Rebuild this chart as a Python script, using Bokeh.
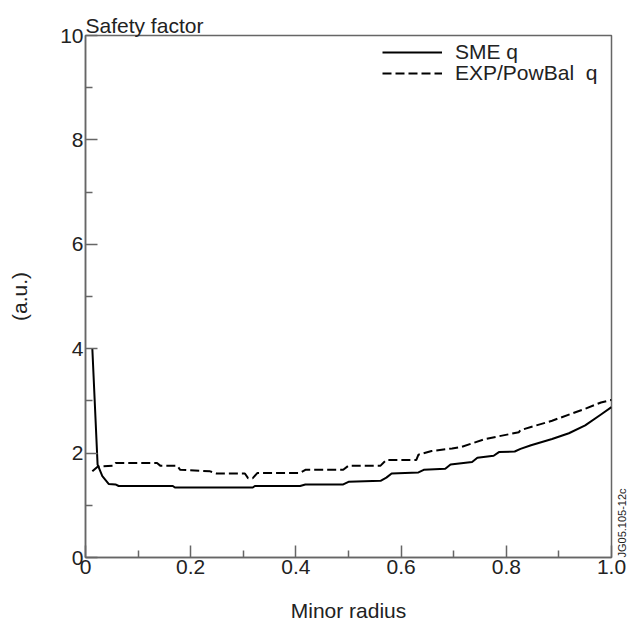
import math
from bokeh.plotting import figure
from bokeh.models import Legend, LegendItem, FixedTicker, LinearAxis
from bokeh.embed import file_html
from bokeh.resources import INLINE

# SME q (solid)
sme_x = [0.013, 0.023, 0.032, 0.044, 0.057, 0.063, 0.166, 0.170, 0.318, 0.322,
         0.408, 0.418, 0.490, 0.500, 0.561, 0.572, 0.582, 0.633, 0.643, 0.684,
         0.694, 0.735, 0.745, 0.776, 0.786, 0.816, 0.827, 0.847, 0.887, 0.919,
         0.950, 0.980, 1.000]
sme_y = [4.00, 1.78, 1.56, 1.41, 1.40, 1.37, 1.37, 1.34, 1.34, 1.37,
         1.37, 1.40, 1.40, 1.45, 1.47, 1.53, 1.61, 1.63, 1.68, 1.70,
         1.78, 1.83, 1.91, 1.95, 2.02, 2.03, 2.08, 2.15, 2.27, 2.38,
         2.53, 2.74, 2.88]

# EXP/PowBal q (dashed)
exp_x = [0.013, 0.023, 0.053, 0.057, 0.136, 0.142, 0.174, 0.180, 0.237, 0.249,
         0.303, 0.309, 0.318, 0.327, 0.408, 0.418, 0.490, 0.500, 0.561, 0.572,
         0.629, 0.633, 0.658, 0.697, 0.715, 0.760, 0.824, 0.827, 0.887, 0.950,
         0.980, 1.000]
exp_y = [1.65, 1.74, 1.76, 1.81, 1.81, 1.76, 1.76, 1.68, 1.65, 1.61,
         1.61, 1.52, 1.52, 1.62, 1.62, 1.68, 1.68, 1.76, 1.76, 1.87,
         1.87, 1.97, 2.04, 2.09, 2.12, 2.27, 2.40, 2.44, 2.62, 2.85,
         2.97, 3.02]

x_ticks = [0, 0.2, 0.4, 0.6, 0.8, 1.0]
x_minor = [0.1, 0.3, 0.5, 0.7, 0.9]
x_labels = ["0", "0.2", "0.4", "0.6", "0.8", "1.0"]
y_ticks = [0, 2, 4, 6, 8, 10]
y_minor = [1, 3, 5, 7, 9]
y_labels = ["0", "2", "4", "6", "8", "10"]
series_names = ["SME q", "EXP/PowBal  q"]
code_text = "JG05.105-12c"

FONT = "Liberation Sans"
TXT = "#222222"
AX = "#666666"
FS = "21px"

p = figure(width=636, height=624, x_range=(0, 1), y_range=(0, 10),
           output_backend="svg", toolbar_location=None,
           min_border_left=85, min_border_right=23,
           min_border_top=35, min_border_bottom=61)
p.grid.visible = False
p.outline_line_color = AX
p.outline_line_width = 1.5
p.background_fill_color = "white"
p.border_fill_color = "white"

p.title.text = "Safety factor"
p.title.align = "left"
p.title.text_font = FONT
p.title.text_font_size = FS
p.title.text_font_style = "normal"
p.title.text_color = TXT
p.title.standoff = -3
p.title.offset = 0

r1 = p.line(sme_x, sme_y, line_color="black", line_width=2)
r2 = p.line(exp_x, exp_y, line_color="black", line_width=2, line_dash="9 4")

for ax, ticks, minor, labels in ((p.xaxis[0], x_ticks, x_minor, x_labels),
                                 (p.yaxis[0], y_ticks, y_minor, y_labels)):
    ax.ticker = FixedTicker(ticks=ticks, minor_ticks=minor)
    ax.major_label_overrides = {t: l for t, l in zip(ticks, labels)}
    ax.axis_line_color = AX
    ax.axis_line_width = 1.5
    ax.major_tick_line_color = AX
    ax.minor_tick_line_color = AX
    ax.major_tick_line_width = 1.5
    ax.minor_tick_line_width = 1.5
    ax.major_tick_in = 12
    ax.major_tick_out = 0
    ax.minor_tick_in = 7
    ax.minor_tick_out = 0
    ax.major_label_text_font = FONT
    ax.major_label_text_font_size = FS
    ax.major_label_text_color = TXT
    ax.major_label_standoff = 2
    ax.axis_label_text_font = FONT
    ax.axis_label_text_font_size = FS
    ax.axis_label_text_font_style = "normal"
    ax.axis_label_text_color = TXT

p.xaxis.axis_label = "Minor radius"
p.xaxis.axis_label_standoff = 22
p.yaxis.axis_label = "(a.u.)"
p.yaxis.axis_label_standoff = 26

# small figure code at lower right, outside the frame, reading upwards
code_axis = LinearAxis(ticker=FixedTicker(ticks=[0], minor_ticks=[]),
                       major_label_overrides={0: code_text},
                       major_label_orientation=math.pi / 2,
                       axis_line_color=None, major_tick_line_color=None,
                       minor_tick_line_color=None,
                       major_label_text_font=FONT,
                       major_label_text_font_size="11px",
                       major_label_text_color=TXT,
                       major_label_standoff=4)
p.add_layout(code_axis, "right")

# one legend per row, so the row pitch matches the reference
for name, rend, loc in ((series_names[0], r1, (297, 493)),
                        (series_names[1], r2, (297, 472))):
    lg = Legend(items=[LegendItem(label=name, renderers=[rend])],
                location=loc, padding=0, margin=0, spacing=0,
                glyph_width=60, glyph_height=20, label_height=20,
                label_standoff=13, label_text_font=FONT,
                label_text_font_size=FS, label_text_color=TXT,
                border_line_color=None, background_fill_alpha=0)
    p.add_layout(lg)

open("out.html", "w").write(file_html(p, INLINE))
